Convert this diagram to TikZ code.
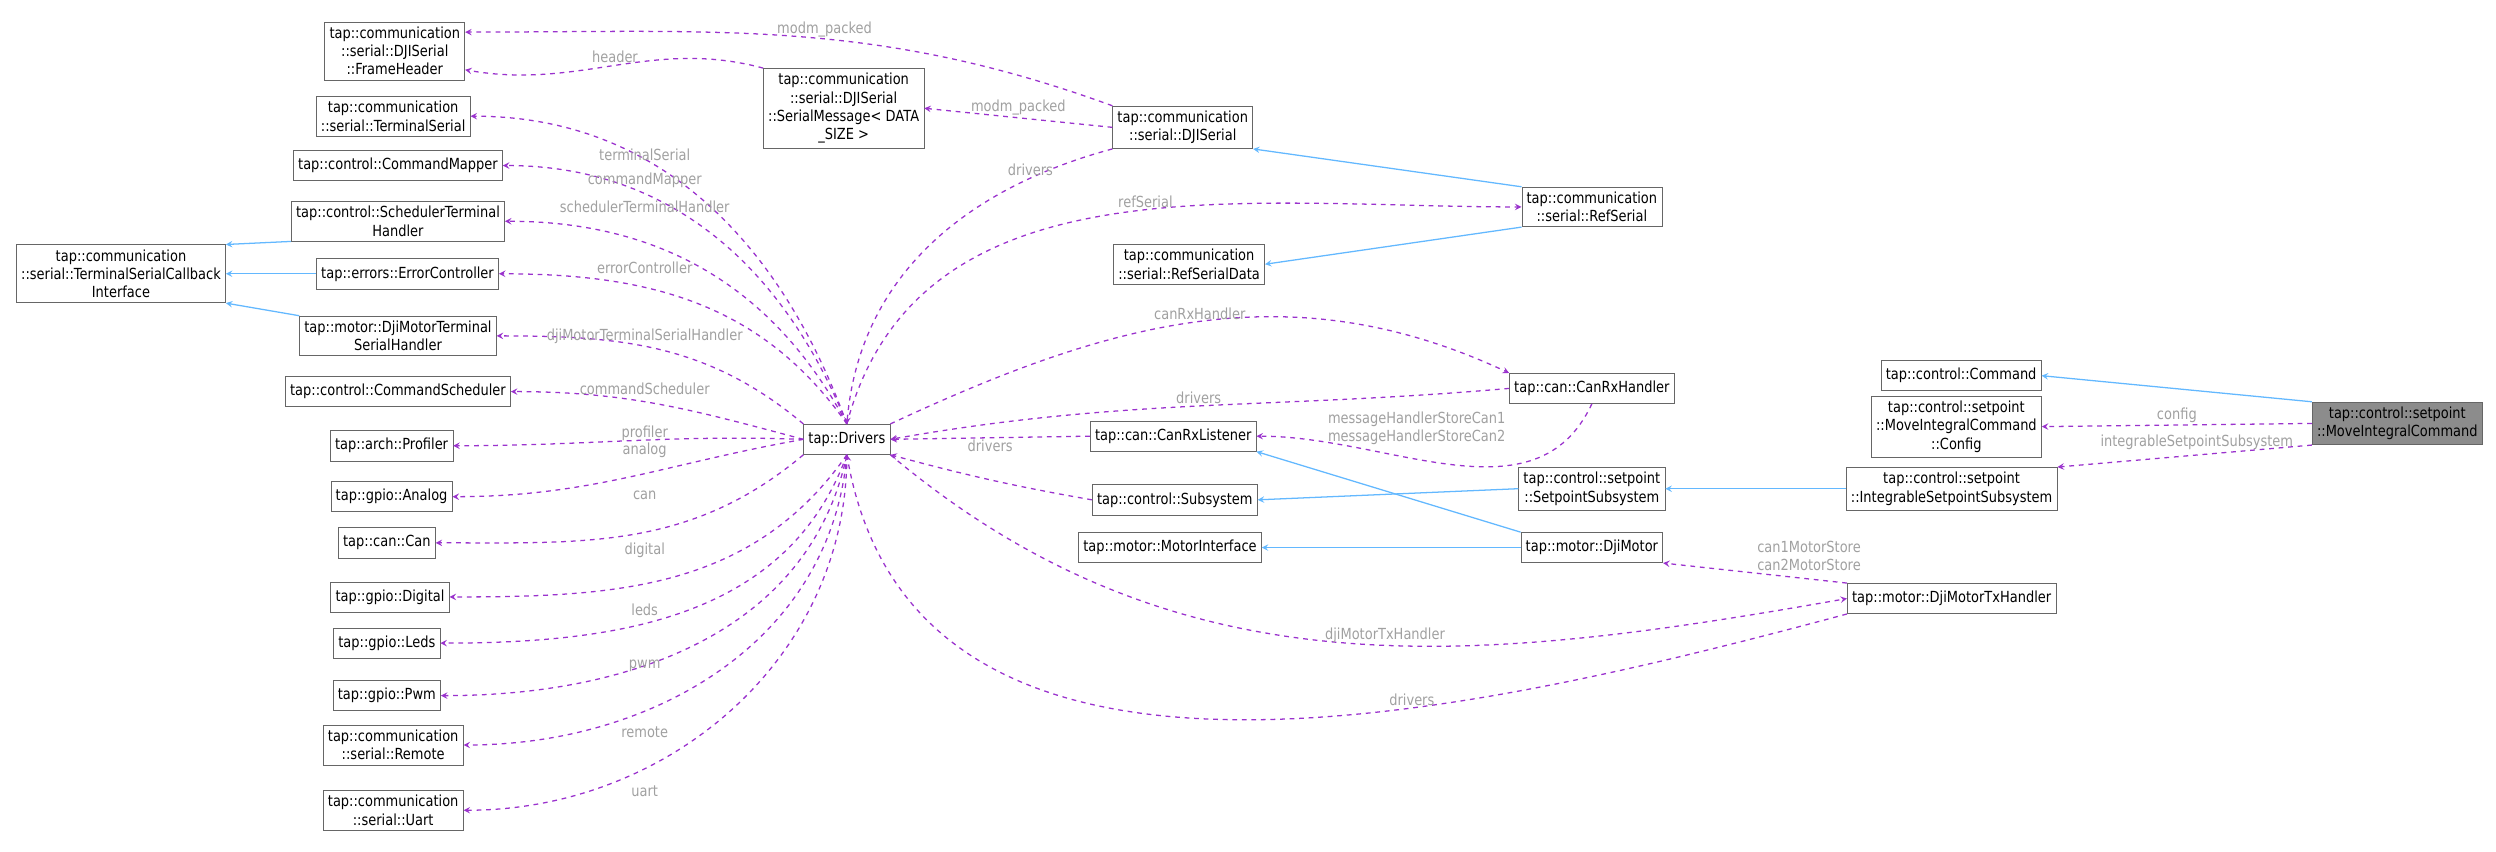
\documentclass[tikz,border=0pt]{standalone}
\usepackage{fontspec}
\setmainfont{DejaVu Sans}[FakeStretch=0.85]
\usetikzlibrary{arrows}
\definecolor{depcol}{RGB}{154,50,205}
\definecolor{inhcol}{RGB}{99,184,255}
\definecolor{lblcol}{RGB}{160,160,160}
\tikzstyle{cls} = [rectangle, draw=black!60, fill=white, align=center, inner sep=3pt, minimum height=19pt, font=\fontsize{9.6}{11.5}\selectfont]
\tikzstyle{cur} = [cls, fill=black!45]
\tikzstyle{dep} = [draw=depcol, dashed, thick, -stealth]
\tikzstyle{inh} = [draw=inhcol, thick, -stealth]
\tikzstyle{lbl} = [text=lblcol, inner sep=1pt, font=\fontsize{9.6}{11.5}\selectfont]

\begin{document}
\begin{tikzpicture}[x=1pt,y=1pt]
	\useasboundingbox (0,0) rectangle (1568,-535);
	% left column
	\node (fh) [cls] at (248,-32) {tap::communication\\::serial::DJISerial\\::FrameHeader};
	\node (tser) [cls] at (247,-73) {tap::communication\\::serial::TerminalSerial};
	\node (cmap) [cls] at (250,-104) {tap::control::CommandMapper};
	\node (sth) [cls] at (250,-139) {tap::control::SchedulerTerminal\\Handler};
	\node (cbi) [cls] at (76,-172) {tap::communication\\::serial::TerminalSerialCallback\\Interface};
	\node (ectl) [cls] at (256,-172) {tap::errors::ErrorController};
	\node (djt) [cls] at (250,-211) {tap::motor::DjiMotorTerminal\\SerialHandler};
	\node (csch) [cls] at (250,-246) {tap::control::CommandScheduler};
	\node (prof) [cls] at (246,-280) {tap::arch::Profiler};
	\node (anlg) [cls] at (246,-312) {tap::gpio::Analog};
	\node (can) [cls] at (243,-341) {tap::can::Can};
	\node (dig) [cls] at (245,-375) {tap::gpio::Digital};
	\node (leds) [cls] at (243,-404) {tap::gpio::Leds};
	\node (pwm) [cls] at (243,-437) {tap::gpio::Pwm};
	\node (rem) [cls] at (247,-468) {tap::communication\\::serial::Remote};
	\node (uart) [cls] at (247,-509) {tap::communication\\::serial::Uart};
	% middle
	\node (drv) [cls] at (532,-276) {tap::Drivers};
	\node (smsg) [cls] at (530,-68) {tap::communication\\::serial::DJISerial\\::SerialMessage< DATA\\\_SIZE >};
	\node (dji) [cls] at (743,-80) {tap::communication\\::serial::DJISerial};
	\node (rsd) [cls] at (747,-166) {tap::communication\\::serial::RefSerialData};
	\node (ref) [cls] at (1000,-130) {tap::communication\\::serial::RefSerial};
	\node (crh) [cls] at (1000,-244) {tap::can::CanRxHandler};
	\node (crl) [cls] at (737,-274) {tap::can::CanRxListener};
	\node (sub) [cls] at (738,-314) {tap::control::Subsystem};
	\node (mint) [cls] at (735,-344) {tap::motor::MotorInterface};
	\node (ssub) [cls] at (1000,-307) {tap::control::setpoint\\::SetpointSubsystem};
	\node (dm) [cls] at (1000,-344) {tap::motor::DjiMotor};
	\node (isub) [cls] at (1226,-307) {tap::control::setpoint\\::IntegrableSetpointSubsystem};
	\node (tx) [cls] at (1226,-376) {tap::motor::DjiMotorTxHandler};
	\node (cmd) [cls] at (1232,-236) {tap::control::Command};
	\node (cfg) [cls] at (1229,-268) {tap::control::setpoint\\::MoveIntegralCommand\\::Config};
	\node (mic) [cur] at (1506,-266) {tap::control::setpoint\\::MoveIntegralCommand};

	% inheritance
	\draw [inh] (sth.south west) -- (cbi.north east);
	\draw [inh] (ectl.west) -- (cbi.east);
	\draw [inh] (djt.north west) -- (cbi.south east);
	\draw [inh] (ref.north west) -- (dji.south east);
	\draw [inh] (ref.south west) -- (rsd.east);
	\draw [inh] (mic.north west) -- (cmd.east);
	\draw [inh] (isub.west) -- (ssub.east);
	\draw [inh] (ssub.west) -- (sub.east);
	\draw [inh] (dm.north west) -- (crl.south east);
	\draw [inh] (dm.west) -- (mint.east);

	% members
	\draw [dep] (dji.north west) to[out=160,in=0] node[lbl, above, pos=0.45] {modm\_packed} (fh.15);
	\draw [dep] (smsg.north west) to[out=165,in=-10] node[lbl, above, pos=0.5] {header} (fh.-15);
	\draw [dep] (dji.west) -- node[lbl, above] {modm\_packed} (smsg.east);
	\draw [dep] (dji.south west) to[out=195,in=85] node[lbl, above, pos=0.2] {drivers} (drv.north);
	\draw [dep] (drv.north) to[out=110,in=0] (tser.east);
	\draw [dep] (drv.north) to[out=112,in=0] (cmap.east);
	\draw [dep] (drv.north) to[out=118,in=0] (sth.east);
	\draw [dep] (drv.north) to[out=125,in=0] (ectl.east);
	\draw [dep] (drv.north west) to[out=140,in=0] (djt.east);
	\draw [dep] (drv.west) to[out=165,in=0] (csch.east);
	\draw [dep] (drv.west) to[out=178,in=0] (prof.east);
	\draw [dep] (drv.west) to[out=190,in=0] (anlg.east);
	\draw [dep] (drv.south west) to[out=220,in=0] (can.east);
	\draw [dep] (drv.south) to[out=235,in=0] (dig.east);
	\draw [dep] (drv.south) to[out=250,in=0] (leds.east);
	\draw [dep] (drv.south) to[out=258,in=0] (pwm.east);
	\draw [dep] (drv.south) to[out=265,in=0] (rem.east);
	\draw [dep] (drv.south) to[out=270,in=0] (uart.east);
	\node [lbl] at (405,-97) {terminalSerial};
	\node [lbl] at (405,-113) {commandMapper};
	\node [lbl] at (405,-130) {schedulerTerminalHandler};
	\node [lbl] at (405,-168) {errorController};
	\node [lbl] at (405,-211) {djiMotorTerminalSerialHandler};
	\node [lbl] at (405,-244) {commandScheduler};
	\node [lbl] at (405,-272) {profiler};
	\node [lbl] at (405,-283) {analog};
	\node [lbl] at (405,-311) {can};
	\node [lbl] at (405,-346) {digital};
	\node [lbl] at (405,-383) {leds};
	\node [lbl] at (405,-418) {pwm};
	\node [lbl] at (405,-460) {remote};
	\node [lbl] at (405,-497) {uart};
	\draw [dep] (drv.north) to[out=75,in=180] node[lbl, pos=0.55, above] {refSerial} (ref.west);
	\draw [dep] (drv.north east) to[out=25,in=155] node[lbl, pos=0.5, above] {canRxHandler} (crh.north west);
	\draw [dep] (crh.west) to[out=185,in=10] node[lbl, pos=0.5, above] {drivers} (drv.east);
	\draw [dep] (crh.south) to[out=-115,in=0] (crl.east);
	\node [lbl, align=center] at (890,-269) {messageHandlerStoreCan1\\messageHandlerStoreCan2};
	\draw [dep] (crl.west) -- node[lbl, below] {drivers} (drv.east);
	\draw [dep] (sub.west) to[out=170,in=-15] (drv.south east);
	\draw [dep] (drv.south east) to[out=-40,in=190] node[lbl, pos=0.55, above] {djiMotorTxHandler} (tx.west);
	\draw [dep] (tx.south west) to[out=195,in=-80] node[lbl, pos=0.35, above] {drivers} (drv.south);
	\draw [dep] (tx.north west) -- node[lbl, above right, align=center] {can1MotorStore\\can2MotorStore} (dm.south east);
	\draw [dep] (mic.west) -- node[lbl, above] {config} (cfg.east);
	\draw [dep] (mic.south west) -- (isub.north east);
	\node [lbl] at (1380,-278) {integrableSetpointSubsystem};
\end{tikzpicture}
\end{document}
